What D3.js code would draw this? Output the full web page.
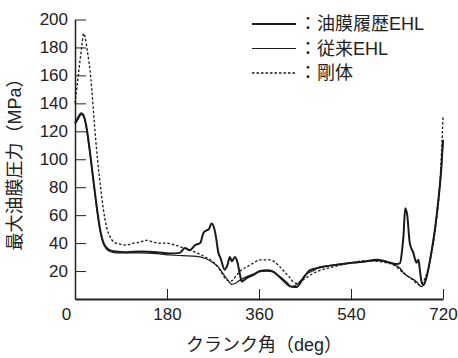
<!DOCTYPE html>
<html>
<head>
<meta charset="utf-8">
<script src="https://cdn.jsdelivr.net/npm/d3@7"></script>
<style>
  body { margin: 0; background: #fff; }
  svg text { font-family: "Liberation Sans", "Noto Sans CJK JP", sans-serif; fill: #222; }
  .axis path, .axis line { stroke: #222; }
</style>
</head>
<body>
<div class="chart"></div>
<script>
// crank angle (deg) / max oil film pressure (MPa)
const historyDeg = [0, 5, 12, 16, 22, 29, 36, 44, 50, 55, 61, 68, 80, 100, 130, 160, 186, 205, 215, 225, 235, 245, 251, 257, 262, 267, 272, 276, 280, 285, 293, 298, 303, 307, 313, 318, 323, 326, 336, 350, 362, 375, 388, 400, 408, 416, 421, 428, 434, 440, 447, 460, 473, 486, 512, 538, 564, 590, 610, 629, 636, 640, 643, 646, 650, 655, 662, 668, 672, 675, 678, 682, 688, 698, 705, 711, 717, 720];
const historyMPa = [126, 129, 133, 132, 124, 106, 85, 62, 48, 41, 37, 35, 34, 33.5, 34, 33.5, 32.5, 33, 36.5, 35, 38.5, 40, 47, 49, 50, 54, 51, 44, 34, 29, 21, 24, 30, 27, 30, 26, 17, 12.5, 15, 17.5, 20, 20.5, 19.5, 16, 13.6, 11, 9, 8.5, 8.5, 11, 15, 20.7, 22, 23, 24.5, 25.7, 26.7, 28, 26.7, 25, 25.7, 35, 47, 65, 60, 40, 33, 26, 28, 20, 12.4, 10, 16, 35, 52, 71, 95, 114];

const conventionalDeg = [0, 5, 12, 16, 22, 29, 36, 44, 50, 55, 61, 68, 80, 100, 130, 160, 186, 210, 238, 255, 270, 280, 290, 300, 306, 315, 323, 336, 350, 362, 375, 388, 400, 410, 421, 430, 440, 450, 465, 479, 500, 530, 560, 590, 610, 625, 636, 643, 655, 668, 678, 688, 698, 705, 711, 717, 720];
const conventionalMPa = [125, 128, 132, 131, 123, 105, 84, 61, 47, 40, 36, 34, 33, 33, 33, 32.5, 31.5, 31, 30.5, 29, 26, 23, 18, 13, 10.5, 11.5, 13.6, 16, 18, 19.5, 20, 19.5, 15.5, 12, 9, 9.5, 12.5, 17, 20, 23, 24, 25.5, 26.5, 27.5, 26.5, 24.5, 22, 18.6, 15.5, 12.4, 8.8, 16, 35, 52, 71, 95, 113];

const rigidDeg = [0, 4, 8, 13, 17, 20, 24, 31, 38, 44, 50, 56, 62, 68, 75, 85, 101, 115, 125, 140, 155, 166, 179, 192, 205, 220, 238, 255, 270, 285, 297, 306, 316, 326, 336, 348, 362, 381, 401, 411, 421, 430, 438, 446, 460, 473, 505, 538, 571, 600, 623, 643, 660, 675, 685, 695, 705, 714, 720];
const rigidMPa = [140, 152, 165, 180, 190, 187, 178, 158, 125, 100, 80, 63, 51, 45, 41, 39.5, 38.6, 40, 40.5, 42, 40.5, 40, 40, 39, 37.5, 35.5, 33, 30, 26.7, 20, 13.6, 13, 17, 21, 23, 25.5, 28, 28, 23, 19, 15, 11.4, 11.5, 13.6, 17, 19.5, 23, 25.7, 27.5, 26.5, 24.3, 18.6, 14, 10, 15, 28, 50, 83, 130];

const xTicks = [0, 180, 360, 540, 720];
const yTicks = [20, 40, 60, 80, 100, 120, 140, 160, 180, 200];
const legendLabels = ['：油膜履歴EHL', '：従来EHL', '：剛体'];

const W = 458, H = 358;
const margins = { top: 19.5, right: 15, bottom: 59, left: 75 },
  width = W - margins.left - margins.right,
  height = H - margins.top - margins.bottom;

const x = d3.scaleLinear().domain([0, 720]).range([0, width]);
const y = d3.scaleLinear().domain([0, 200]).range([height, 0]);

const svg = d3.select('.chart').append('svg')
  .attr('width', W).attr('height', H)
  .append('g')
  .attr('transform', `translate(${margins.left},${margins.top})`);

// axes, ticks point inwards
const xAxis = svg.append('g').attr('class', 'axis')
  .attr('transform', `translate(0,${height})`)
  .call(d3.axisBottom(x).tickValues(xTicks).tickSizeInner(-10).tickSizeOuter(0).tickPadding(9));
xAxis.select('.domain').attr('stroke-width', 1.8);
xAxis.selectAll('text').style('font-size', '17px');
xAxis.selectAll('.tick').filter(d => d === 0).select('text').attr('dx', -9);

const yAxis = svg.append('g').attr('class', 'axis')
  .call(d3.axisLeft(y).tickValues(yTicks).tickSizeInner(-11).tickSizeOuter(0).tickPadding(7));
yAxis.select('.domain').attr('stroke-width', 1.5);
yAxis.selectAll('text').style('font-size', '17px');

const line = d3.line()
  .x(d => x(d[0]))
  .y(d => y(d[1]))
  .curve(d3.curveMonotoneX);

const series = [
  { deg: rigidDeg, mpa: rigidMPa, w: 1.3, dash: '2.5,2' },
  { deg: conventionalDeg, mpa: conventionalMPa, w: 1.2, dash: null },
  { deg: historyDeg, mpa: historyMPa, w: 2, dash: null }
];

series.forEach(s => {
  svg.append('path')
    .datum(d3.zip(s.deg, s.mpa))
    .attr('fill', 'none')
    .attr('stroke', '#1a1a1a')
    .attr('stroke-width', s.w)
    .attr('stroke-dasharray', s.dash)
    .attr('stroke-linejoin', 'round')
    .attr('d', line);
});

// legend
const legendStyles = [series[2], series[1], series[0]];
const legend = svg.append('g').attr('transform', `translate(${252 - margins.left},${24 - margins.top})`);
legendLabels.forEach((label, i) => {
  const s = legendStyles[i];
  legend.append('line')
    .attr('x1', 0).attr('x2', 44)
    .attr('y1', i * 24.5).attr('y2', i * 24.5)
    .attr('stroke', '#1a1a1a')
    .attr('stroke-width', s.w)
    .attr('stroke-dasharray', s.dash);
  legend.append('text')
    .attr('x', 47).attr('y', i * 24.5)
    .attr('dy', '0.36em')
    .style('font-size', '18px')
    .text(label);
});

// axis titles
svg.append('text')
  .attr('x', width / 2 + 5)
  .attr('y', height + 52)
  .attr('text-anchor', 'middle')
  .style('font-size', '18px')
  .text('クランク角（deg）');

svg.append('text')
  .attr('transform', `translate(${-margins.left + 21},${160 - margins.top}) rotate(-90)`)
  .attr('text-anchor', 'middle')
  .style('font-size', '18px')
  .text('最大油膜圧力（MPa）');
</script>
</body>
</html>
